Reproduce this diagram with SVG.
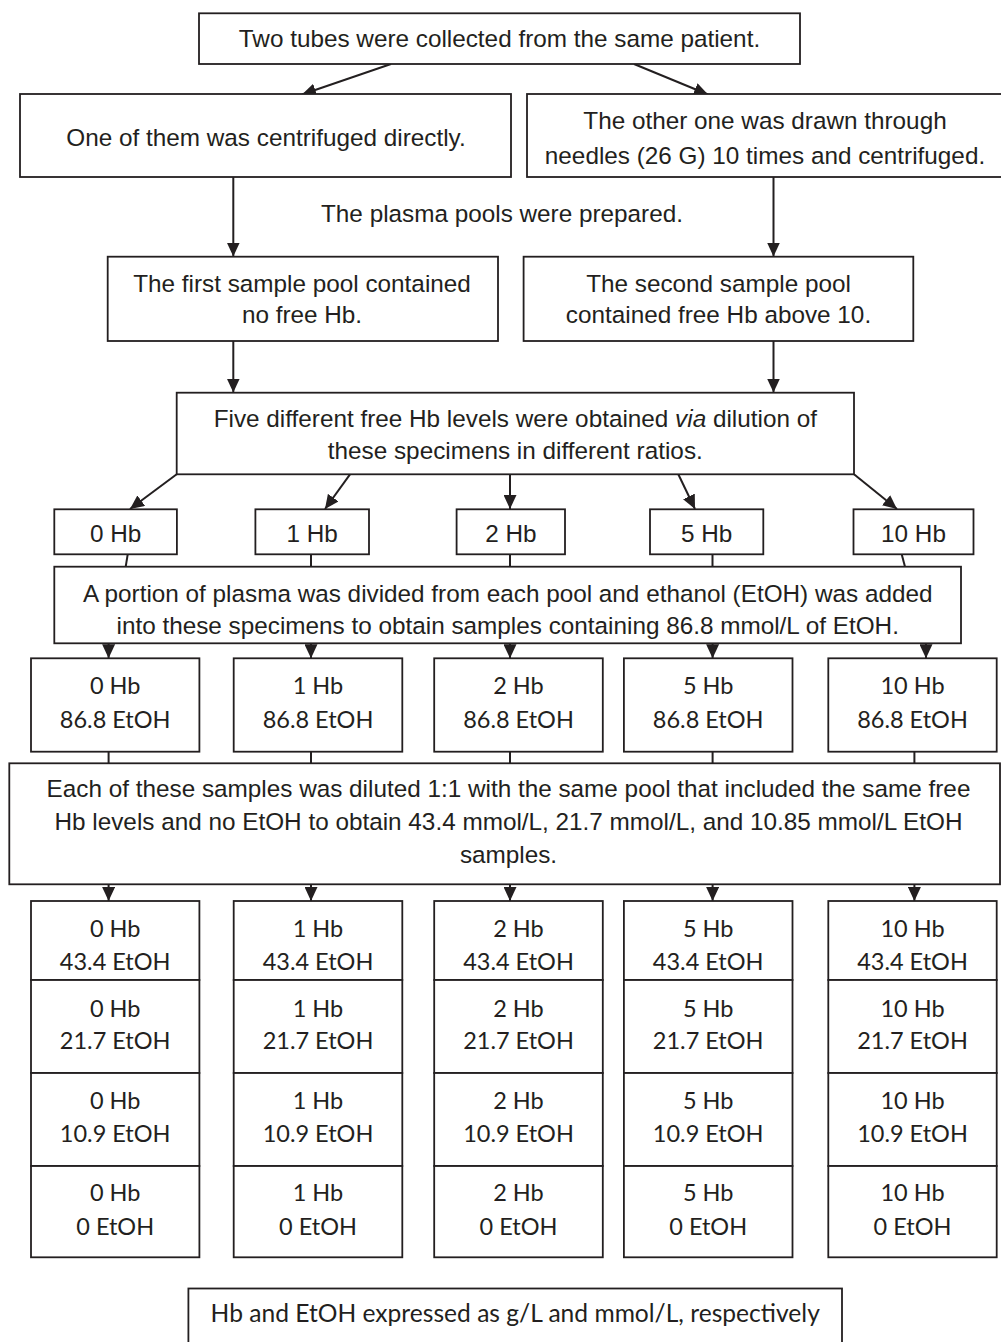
<svg xmlns="http://www.w3.org/2000/svg" width="1001" height="1342" viewBox="0 0 1001 1342">
<style>
.bx{fill:#fff;stroke:#231f20;stroke-width:1.8}
.ln{fill:none;stroke:#231f20;stroke-width:2}
.ar{fill:none;stroke:#231f20;stroke-width:2;marker-end:url(#ah)}
.a{font-family:"Liberation Sans",Arial,sans-serif;font-size:24.3px;fill:#231f20;text-anchor:middle}
.c{font-family:Lato,"Open Sans",sans-serif;font-size:23.5px;fill:#231f20;text-anchor:middle}
.n{font-size:24.6px}
</style>
<defs>
<marker id="ah" markerUnits="userSpaceOnUse" markerWidth="14" markerHeight="13" refX="14" refY="6.5" orient="auto">
<path d="M0,0 L14,6.5 L0,13 z" fill="#231f20"/>
</marker>
</defs>
<rect width="1001" height="1342" fill="#fff"/>

<g id="connectors">
<line class="ar" x1="391" y1="64" x2="302" y2="94.5"/>
<line class="ar" x1="634" y1="64" x2="708" y2="94.5"/>
<line class="ar" x1="233.3" y1="177" x2="233.3" y2="256.5"/>
<line class="ar" x1="773.5" y1="177" x2="773.5" y2="256.5"/>
<line class="ar" x1="233.3" y1="341" x2="233.3" y2="392.5"/>
<line class="ar" x1="773.5" y1="341" x2="773.5" y2="392.5"/>
<line class="ar" x1="176.7" y1="474.3" x2="130" y2="509"/>
<line class="ar" x1="350" y1="474.3" x2="325" y2="509"/>
<line class="ar" x1="510" y1="474.3" x2="510" y2="509"/>
<line class="ar" x1="678.3" y1="474.3" x2="695" y2="509"/>
<line class="ar" x1="854" y1="474.3" x2="897" y2="509"/>
<line class="ln" x1="127.7" y1="554.3" x2="125.7" y2="566.7"/>
<line class="ln" x1="311" y1="554.3" x2="311" y2="566.7"/>
<line class="ln" x1="510" y1="554.3" x2="510" y2="566.7"/>
<line class="ln" x1="712.5" y1="554.3" x2="712.5" y2="566.7"/>
<line class="ln" x1="901.7" y1="554.3" x2="905" y2="566.7"/>
<line class="ar" x1="108.6" y1="643.3" x2="108.6" y2="658.3"/>
<line class="ar" x1="311" y1="643.3" x2="311" y2="658.3"/>
<line class="ar" x1="510" y1="643.3" x2="510" y2="658.3"/>
<line class="ar" x1="712.6" y1="643.3" x2="712.6" y2="658.3"/>
<line class="ar" x1="926" y1="643.3" x2="926" y2="658.3"/>
<line class="ln" x1="108.6" y1="752" x2="108.6" y2="763.3"/>
<line class="ln" x1="311" y1="752" x2="311" y2="763.3"/>
<line class="ln" x1="510" y1="752" x2="510" y2="763.3"/>
<line class="ln" x1="712.6" y1="752" x2="712.6" y2="763.3"/>
<line class="ln" x1="914.4" y1="752" x2="914.4" y2="763.3"/>
<line class="ar" x1="108.6" y1="884.3" x2="108.6" y2="901"/>
<line class="ar" x1="311" y1="884.3" x2="311" y2="901"/>
<line class="ar" x1="510" y1="884.3" x2="510" y2="901"/>
<line class="ar" x1="712.6" y1="884.3" x2="712.6" y2="901"/>
<line class="ar" x1="914.4" y1="884.3" x2="914.4" y2="901"/>
</g>

<g id="n-top"><rect class="bx" x="199" y="13.3" width="601" height="50.7"/><text class="a" x="499.5" y="47">Two tubes were collected from the same patient.</text></g>
<g id="n-direct"><rect class="bx" x="20" y="94" width="491" height="83"/><text class="a" x="266" y="146">One of them was centrifuged directly.</text></g>
<g id="n-needles"><rect class="bx" x="527" y="94" width="480" height="83"/><text class="a" x="765" y="129">The other one was drawn through</text><text class="a" x="765" y="164">needles (26 G) 10 times and centrifuged.</text></g>
<g id="n-plasma"><text class="a" x="502" y="222">The plasma pools were prepared.</text></g>
<g id="n-pool1"><rect class="bx" x="107.7" y="256.7" width="390.3" height="84.3"/><text class="a" x="302" y="291.5">The first sample pool contained</text><text class="a" x="302" y="322.5">no free Hb.</text></g>
<g id="n-pool2"><rect class="bx" x="523.6" y="256.7" width="389.7" height="84.3"/><text class="a" x="718.5" y="291.5">The second sample pool</text><text class="a" x="718.5" y="322.5">contained free Hb above 10.</text></g>
<g id="n-five"><rect class="bx" x="176.7" y="392.7" width="677.3" height="81.6"/><text class="a" x="515.3" y="427">Five different free Hb levels were obtained <tspan font-style="italic">via</tspan> dilution of</text><text class="a" x="515.3" y="459">these specimens in different ratios.</text></g>

<g id="n-hb0"><rect class="bx" x="54.3" y="509.3" width="122.6" height="45"/><text class="a" x="115.6" y="541.5">0 Hb</text></g>
<g id="n-hb1"><rect class="bx" x="255.4" y="509.3" width="113.6" height="45"/><text class="a" x="312.2" y="541.5">1 Hb</text></g>
<g id="n-hb2"><rect class="bx" x="456.6" y="509.3" width="108.4" height="45"/><text class="a" x="510.8" y="541.5">2 Hb</text></g>
<g id="n-hb5"><rect class="bx" x="650" y="509.3" width="113.3" height="45"/><text class="a" x="706.6" y="541.5">5 Hb</text></g>
<g id="n-hb10"><rect class="bx" x="853.5" y="509.3" width="120" height="45"/><text class="a" x="913.5" y="541.5">10 Hb</text></g>

<g id="n-portion"><rect class="bx" x="54.3" y="566.7" width="906.7" height="76.6"/><text class="a" x="507.7" y="602">A portion of plasma was divided from each pool and ethanol (EtOH) was added</text><text class="a" x="507.7" y="633.7">into these specimens to obtain samples containing 86.8 mmol/L of EtOH.</text></g>

<g id="n-e868-0"><rect class="bx" x="31" y="658.3" width="168.4" height="93.4"/><text class="c" x="115.2" y="694">0 Hb</text><text class="c" x="115.2" y="727.5">86.8 EtOH</text></g>
<g id="n-e868-1"><rect class="bx" x="233.7" y="658.3" width="168.6" height="93.4"/><text class="c" x="318" y="694">1 Hb</text><text class="c" x="318" y="727.5">86.8 EtOH</text></g>
<g id="n-e868-2"><rect class="bx" x="434.2" y="658.3" width="168.6" height="93.4"/><text class="c" x="518.5" y="694">2 Hb</text><text class="c" x="518.5" y="727.5">86.8 EtOH</text></g>
<g id="n-e868-5"><rect class="bx" x="623.9" y="658.3" width="168.6" height="93.4"/><text class="c" x="708.2" y="694">5 Hb</text><text class="c" x="708.2" y="727.5">86.8 EtOH</text></g>
<g id="n-e868-10"><rect class="bx" x="828.3" y="658.3" width="168.4" height="93.4"/><text class="c" x="912.5" y="694">10 Hb</text><text class="c" x="912.5" y="727.5">86.8 EtOH</text></g>

<g id="n-each"><rect class="bx" x="9.3" y="763.3" width="990.7" height="121"/><text class="a" x="508.5" y="796.5">Each of these samples was diluted 1:1 with the same pool that included the same free</text><text class="a" x="508.5" y="830">Hb levels and no EtOH to obtain 43.4 mmol/L, 21.7 mmol/L, and 10.85 mmol/L EtOH</text><text class="a" x="508.5" y="862.5">samples.</text></g>

<g id="n-col0">
<g id="n-c0-434"><rect class="bx" x="31" y="901" width="168.4" height="79"/><text class="c" x="115.2" y="937">0 Hb</text><text class="c" x="115.2" y="970">43.4 EtOH</text></g>
<g id="n-c0-217"><rect class="bx" x="31" y="980" width="168.4" height="93"/><text class="c" x="115.2" y="1017">0 Hb</text><text class="c" x="115.2" y="1048.5">21.7 EtOH</text></g>
<g id="n-c0-109"><rect class="bx" x="31" y="1073" width="168.4" height="93"/><text class="c" x="115.2" y="1108.5">0 Hb</text><text class="c" x="115.2" y="1142">10.9 EtOH</text></g>
<g id="n-c0-0"><rect class="bx" x="31" y="1166" width="168.4" height="91.3"/><text class="c" x="115.2" y="1201">0 Hb</text><text class="c" x="115.2" y="1234.5">0 EtOH</text></g>
</g>
<g id="n-col1">
<g id="n-c1-434"><rect class="bx" x="233.7" y="901" width="168.6" height="79"/><text class="c" x="318" y="937">1 Hb</text><text class="c" x="318" y="970">43.4 EtOH</text></g>
<g id="n-c1-217"><rect class="bx" x="233.7" y="980" width="168.6" height="93"/><text class="c" x="318" y="1017">1 Hb</text><text class="c" x="318" y="1048.5">21.7 EtOH</text></g>
<g id="n-c1-109"><rect class="bx" x="233.7" y="1073" width="168.6" height="93"/><text class="c" x="318" y="1108.5">1 Hb</text><text class="c" x="318" y="1142">10.9 EtOH</text></g>
<g id="n-c1-0"><rect class="bx" x="233.7" y="1166" width="168.6" height="91.3"/><text class="c" x="318" y="1201">1 Hb</text><text class="c" x="318" y="1234.5">0 EtOH</text></g>
</g>
<g id="n-col2">
<g id="n-c2-434"><rect class="bx" x="434.2" y="901" width="168.6" height="79"/><text class="c" x="518.5" y="937">2 Hb</text><text class="c" x="518.5" y="970">43.4 EtOH</text></g>
<g id="n-c2-217"><rect class="bx" x="434.2" y="980" width="168.6" height="93"/><text class="c" x="518.5" y="1017">2 Hb</text><text class="c" x="518.5" y="1048.5">21.7 EtOH</text></g>
<g id="n-c2-109"><rect class="bx" x="434.2" y="1073" width="168.6" height="93"/><text class="c" x="518.5" y="1108.5">2 Hb</text><text class="c" x="518.5" y="1142">10.9 EtOH</text></g>
<g id="n-c2-0"><rect class="bx" x="434.2" y="1166" width="168.6" height="91.3"/><text class="c" x="518.5" y="1201">2 Hb</text><text class="c" x="518.5" y="1234.5">0 EtOH</text></g>
</g>
<g id="n-col5">
<g id="n-c5-434"><rect class="bx" x="623.9" y="901" width="168.6" height="79"/><text class="c" x="708.2" y="937">5 Hb</text><text class="c" x="708.2" y="970">43.4 EtOH</text></g>
<g id="n-c5-217"><rect class="bx" x="623.9" y="980" width="168.6" height="93"/><text class="c" x="708.2" y="1017">5 Hb</text><text class="c" x="708.2" y="1048.5">21.7 EtOH</text></g>
<g id="n-c5-109"><rect class="bx" x="623.9" y="1073" width="168.6" height="93"/><text class="c" x="708.2" y="1108.5">5 Hb</text><text class="c" x="708.2" y="1142">10.9 EtOH</text></g>
<g id="n-c5-0"><rect class="bx" x="623.9" y="1166" width="168.6" height="91.3"/><text class="c" x="708.2" y="1201">5 Hb</text><text class="c" x="708.2" y="1234.5">0 EtOH</text></g>
</g>
<g id="n-col10">
<g id="n-c10-434"><rect class="bx" x="828.3" y="901" width="168.4" height="79"/><text class="c" x="912.5" y="937">10 Hb</text><text class="c" x="912.5" y="970">43.4 EtOH</text></g>
<g id="n-c10-217"><rect class="bx" x="828.3" y="980" width="168.4" height="93"/><text class="c" x="912.5" y="1017">10 Hb</text><text class="c" x="912.5" y="1048.5">21.7 EtOH</text></g>
<g id="n-c10-109"><rect class="bx" x="828.3" y="1073" width="168.4" height="93"/><text class="c" x="912.5" y="1108.5">10 Hb</text><text class="c" x="912.5" y="1142">10.9 EtOH</text></g>
<g id="n-c10-0"><rect class="bx" x="828.3" y="1166" width="168.4" height="91.3"/><text class="c" x="912.5" y="1201">10 Hb</text><text class="c" x="912.5" y="1234.5">0 EtOH</text></g>
</g>

<g id="n-note"><rect class="bx" x="188.4" y="1288.5" width="653.6" height="70"/><text class="c n" x="515.2" y="1322">Hb and EtOH expressed as g/L and mmol/L, respectively</text></g>
</svg>
